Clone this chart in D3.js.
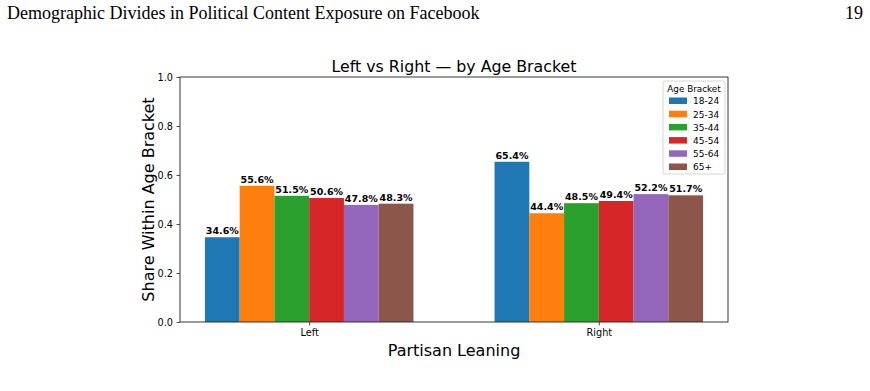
<!DOCTYPE html>
<html>
<head>
<meta charset="utf-8">
<script src="https://cdn.jsdelivr.net/npm/d3@7"></script>
<style>
  body { margin: 0; background: #fff; }
  svg { display: block; font-family: "DejaVu Sans", sans-serif; }
</style>
</head>
<body>
<svg id="chart" width="870" height="391"></svg>
<script>
const leanings = ['Left', 'Right'];
const ageBrackets = ['18-24', '25-34', '35-44', '45-54', '55-64', '65+'];
const leftShares = [0.346, 0.556, 0.515, 0.506, 0.478, 0.483];
const rightShares = [0.654, 0.444, 0.485, 0.494, 0.522, 0.517];
const yTicks = [0.0, 0.2, 0.4, 0.6, 0.8, 1.0];
const colors = ['#1f77b4', '#ff7f0e', '#2ca02c', '#d62728', '#9467bd', '#8c564b'];

const svg = d3.select('svg#chart');

// page header
svg.append('text')
    .attr('x', 7).attr('y', 19)
    .style('font-family', '"Linux Libertine", "Liberation Serif", "DejaVu Serif", serif')
    .style('font-size', '18px')
    .text('Demographic Divides in Political Content Exposure on Facebook');
svg.append('text')
    .attr('x', 863).attr('y', 19)
    .attr('text-anchor', 'end')
    .style('font-family', '"Liberation Serif", "DejaVu Serif", serif')
    .style('font-size', '18px')
    .text('19');

const plotL = 180, plotR = 728, plotT = 77, plotB = 322;
const barW = 0.12;

const xScale = d3.scaleLinear()
    .domain([-0.446, 1.446])
    .range([plotL, plotR]);
const yScale = d3.scaleLinear()
    .domain([0, 1])
    .range([plotB, plotT]);

const rows = [];
leanings.forEach((lean, i) => {
    const vals = i === 0 ? leftShares : rightShares;
    ageBrackets.forEach((age, j) => {
        rows.push({ lean, i, age, j, value: vals[j] });
    });
});

const g = svg.append('g');

g.selectAll('rect.bar')
    .data(rows)
    .enter()
    .append('rect')
    .attr('class', 'bar')
    .attr('x', d => xScale(d.i + (d.j - 3) * barW))
    .attr('y', d => yScale(d.value))
    .attr('width', xScale(barW) - xScale(0))
    .attr('height', d => plotB - yScale(d.value))
    .style('fill', d => colors[d.j]);

g.selectAll('text.val')
    .data(rows)
    .enter()
    .append('text')
    .attr('class', 'val')
    .attr('x', d => xScale(d.i + (d.j - 2.5) * barW))
    .attr('y', d => yScale(d.value) - 3)
    .attr('text-anchor', 'middle')
    .style('font-size', '9.5px')
    .style('font-weight', 'bold')
    .text(d => (d.value * 100).toFixed(1) + '%');

// axes
const yAxis = svg.append('g')
    .attr('transform', `translate(${plotL},0)`)
    .call(d3.axisLeft(yScale).tickValues(yTicks).tickFormat(d3.format('.1f')).tickSize(3.5).tickPadding(3.5));
const xAxis = svg.append('g')
    .attr('transform', `translate(0,${plotB})`)
    .call(d3.axisBottom(xScale).tickValues([0, 1]).tickFormat(d => leanings[d]).tickSize(3.5).tickPadding(3.5));
[yAxis, xAxis].forEach(a => {
    a.select('.domain').remove();
    a.selectAll('text').style('font-size', '9.7px').style('font-family', '"DejaVu Sans", sans-serif').attr('fill', '#000');
    a.selectAll('line').attr('stroke', '#222').attr('stroke-width', 0.8);
});

svg.append('rect')
    .attr('x', plotL).attr('y', plotT)
    .attr('width', plotR - plotL).attr('height', plotB - plotT)
    .style('fill', 'none').style('stroke', '#222').style('stroke-width', 0.9);

// labels
svg.append('text')
    .attr('x', (plotL + plotR) / 2).attr('y', 72)
    .attr('text-anchor', 'middle')
    .style('font-size', '15.8px')
    .text('Left vs Right — by Age Bracket');

svg.append('text')
    .attr('x', (plotL + plotR) / 2).attr('y', 356)
    .attr('text-anchor', 'middle')
    .style('font-size', '16px')
    .text('Partisan Leaning');

svg.append('text')
    .attr('transform', `translate(154,${(plotT + plotB) / 2}) rotate(-90)`)
    .attr('text-anchor', 'middle')
    .style('font-size', '16px')
    .text('Share Within Age Bracket');

// legend
const legend = svg.append('g').attr('transform', 'translate(663,81)');
legend.append('rect')
    .attr('width', 62).attr('height', 93).attr('rx', 2)
    .style('fill', '#fff').style('fill-opacity', 0.8)
    .style('stroke', '#ccc').style('stroke-width', 0.8);
legend.append('text')
    .attr('x', 31).attr('y', 11)
    .attr('text-anchor', 'middle')
    .style('font-size', '8.8px')
    .text('Age Bracket');
const items = legend.selectAll('g.item')
    .data(ageBrackets)
    .enter()
    .append('g')
    .attr('class', 'item')
    .attr('transform', (d, i) => `translate(6,${16.5 + i * 13.2})`);
items.append('rect')
    .attr('width', 18).attr('height', 6.5)
    .style('fill', (d, i) => colors[i]);
items.append('text')
    .attr('x', 24).attr('y', 6.8)
    .style('font-size', '9px')
    .text(d => d);
</script>
</body>
</html>
